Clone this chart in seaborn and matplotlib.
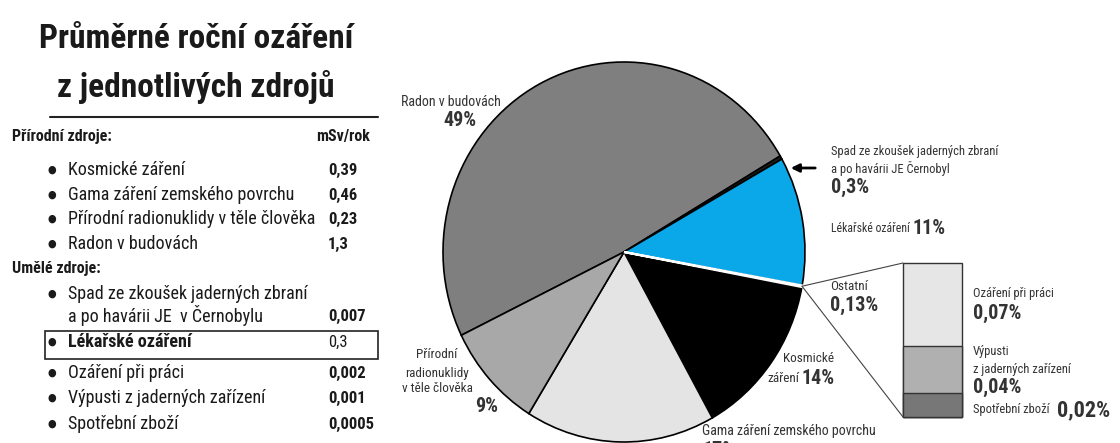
import numpy as np
import matplotlib
matplotlib.use("Agg")
import matplotlib.pyplot as plt
import seaborn as sns
from matplotlib.patches import ConnectionPatch, Rectangle, FancyArrowPatch
from matplotlib.lines import Line2D

# ─── Data ────────────────────────────────────────────────────────────────────
title_lines = ["Průměrné roční ozáření", "z jednotlivých zdrojů"]

natural_items = ["Kosmické záření", "Gama záření zemského povrchu",
                 "Přírodní radionuklidy v těle člověka", "Radon v budovách"]
natural_vals = ["0,39", "0,46", "0,23", "1,3"]
artificial_items = ["Spad ze zkoušek jaderných zbraní\na po havárii JE  v Černobylu",
                    "Lékařské ozáření", "Ozáření při práci",
                    "Výpusti z jaderných zařízení", "Spotřební zboží"]
artificial_vals = ["0,007", "0,3", "0,002", "0,001", "0,0005"]

pie_labels = ["Radon v budovách", "Spad", "Lékařské ozáření", "Ostatní",
              "Kosmické záření", "Gama záření zemského povrchu",
              "Přírodní radionuklidy v těle člověka"]
pie_pct = [49, 0.3, 11, 0.13, 14, 17, 9]
pie_colors = ["#7f7f7f", "#1e1e1e", "#0aa8e8", "#ffffff", "#000000", "#e4e4e4", "#a8a8a8"]

other_labels = ["Spotřební zboží", "Výpusti z jaderných zařízení", "Ozáření při práci"]
other_pct = [0.02, 0.04, 0.07]
other_colors = ["#777777", "#b0b0b0", "#e6e6e6"]

# ─── Style ───────────────────────────────────────────────────────────────────
sns.set_theme(style="white")
plt.rcParams["font.family"] = ["Roboto Condensed", "DejaVu Sans"]
plt.rcParams["font.stretch"] = "condensed"

W, H = 1120, 443
fig = plt.figure(figsize=(W / 100, H / 100), dpi=100)
fig.patch.set_facecolor("white")
renderer = fig.canvas.get_renderer()


def px(x, y):
    return x / W, 1 - y / H


def ftext(x, y, s, **kw):
    kw.setdefault("va", "center")
    kw.setdefault("color", "#1a1a1a")
    return fig.text(*px(x, y), s, **kw)


def after(t, s, gap=3, **kw):
    # texto pegado a la derecha de otro, en la misma línea
    bb = t.get_window_extent(renderer)
    x = bb.x1 + gap
    y = H - (bb.y0 + bb.y1) / 2
    return ftext(x, y, s, **kw)


# ─── Left panel: table ───────────────────────────────────────────────────────
ftext(196, 48, title_lines[0], ha="center", va="baseline", fontsize=24, fontweight="bold")
ftext(196, 97, title_lines[1], ha="center", va="baseline", fontsize=24, fontweight="bold")
fig.add_artist(Line2D([50 / W, 378 / W], [1 - 117 / H] * 2, color="#222", lw=1.5))

ftext(12, 136, "Přírodní zdroje:", fontsize=11.5, fontweight="bold")
ftext(370, 136, "mSv/rok", ha="right", fontsize=11.5, fontweight="bold")

nat_y = [170, 195, 219, 244]
for y, lab, v in zip(nat_y, natural_items, natural_vals):
    ftext(52, y, "●", ha="center", fontsize=8, family="DejaVu Sans")
    ftext(68, y, lab, fontsize=13)
    ftext(328, y, v, fontsize=12, fontweight="bold")

ftext(12, 268, "Umělé zdroje:", fontsize=11.5, fontweight="bold")

art_y = [294, 342, 373, 398, 424]
for i, (y, lab, v) in enumerate(zip(art_y, artificial_items, artificial_vals)):
    lines = lab.split("\n")
    ftext(52, y, "●", ha="center", fontsize=8, family="DejaVu Sans")
    for j, ln in enumerate(lines):
        ftext(68, y + 22 * j, ln, fontsize=13, fontweight="bold" if i == 1 else "normal")
    vy = y + 22 * (len(lines) - 1)
    ftext(328, vy, v, fontsize=12, fontweight="bold" if i != 1 else "normal")

fig.add_artist(Rectangle(px(45, 359), 333 / W, 28 / H, fill=False,
                         edgecolor="#222", lw=1.2, transform=fig.transFigure))

# ─── Pie ─────────────────────────────────────────────────────────────────────
ax = fig.add_axes([443 / W, 1 / H, 362 / W, 380 / H])
wedges, _ = ax.pie(pie_pct, colors=pie_colors, startangle=206, counterclock=False,
                   wedgeprops=dict(edgecolor="black", linewidth=1.2))
ax.set_aspect("auto")
ax.set_xlim(-1, 1)
ax.set_ylim(-1, 1)
for w in wedges:
    w.set_clip_on(False)
wedges[3].set_edgecolor("white")
wedges[3].set_linewidth(1.6)
wedges[3].set_zorder(5)

ost = wedges[3]
mid = np.deg2rad((ost.theta1 + ost.theta2) / 2)
anchor = (np.cos(mid), np.sin(mid))

# ─── Bar of "Ostatní" ───────────────────────────────────────────────────────
bax = fig.add_axes([903 / W, 26 / H, 59 / W, 154 / H])
cum = np.cumsum(other_pct)
for c, col in zip(cum[::-1], other_colors[::-1]):
    sns.barplot(x=[0], y=[c], color=col, saturation=1, width=1,
                edgecolor="#333", linewidth=1, ax=bax)
bax.set_xlim(-0.5, 0.5)
bax.set_ylim(0, cum[-1])
bax.axis("off")
for p in bax.patches:
    p.set_clip_on(False)

for yb in (cum[-1], 0):
    con = ConnectionPatch(xyA=anchor, coordsA=ax.transData, xyB=(-0.5, yb),
                          coordsB=bax.transData, color="#444", lw=0.8)
    fig.add_artist(con)

# ─── Pie labels ──────────────────────────────────────────────────────────────
lab_c = "#333"
pct_kw = dict(fontsize=14.5, fontweight="bold", color="#333")

ftext(401, 102, "Radon v budovách", fontsize=10, color=lab_c)
ftext(460, 121, "49%", ha="center", **pct_kw)

ftext(831, 152, "Spad ze zkoušek jaderných zbraní", fontsize=9, color=lab_c)
ftext(831, 168, "a po havárii JE Černobyl", fontsize=9, color=lab_c)
ftext(831, 187, "0,3%", **pct_kw)
fig.add_artist(FancyArrowPatch(px(818, 168), px(788, 168), transform=fig.transFigure,
                               arrowstyle="-|>", mutation_scale=12, lw=2, color="black"))

t = ftext(831, 229, "Lékařské ozáření", fontsize=8.5, color=lab_c)
after(t, "11%", **pct_kw)

ftext(830, 287, "Ostatní", fontsize=9.5, color=lab_c)
ftext(830, 305, "0,13%", **pct_kw)

ftext(783, 358, "Kosmické", fontsize=9.5, color=lab_c)
t = ftext(767, 378, "záření", fontsize=9.5, color=lab_c)
after(t, "14%", **pct_kw)

for y, s in zip([355, 373, 389], ["Přírodní", "radionuklidy", "v těle člověka"]):
    ftext(437, y, s, ha="center", fontsize=9.5, color=lab_c)
ftext(487, 406, "9%", ha="center", **pct_kw)

ftext(702, 431, "Gama záření zemského povrchu", fontsize=10, color=lab_c)
ftext(702, 451, "17%", **pct_kw)

ftext(973, 294, "Ozáření při práci", fontsize=9, color=lab_c)
ftext(973, 313, "0,07%", **pct_kw)
ftext(973, 352, "Výpusti", fontsize=9, color=lab_c)
ftext(973, 369, "z jaderných zařízení", fontsize=9, color=lab_c)
ftext(973, 387, "0,04%", **pct_kw)
t = ftext(973, 410, "Spotřební zboží", fontsize=9, color=lab_c)
after(t, "0,02%", gap=8, fontsize=16, fontweight="bold", color="#333")

fig.savefig("out.png", dpi=100)
